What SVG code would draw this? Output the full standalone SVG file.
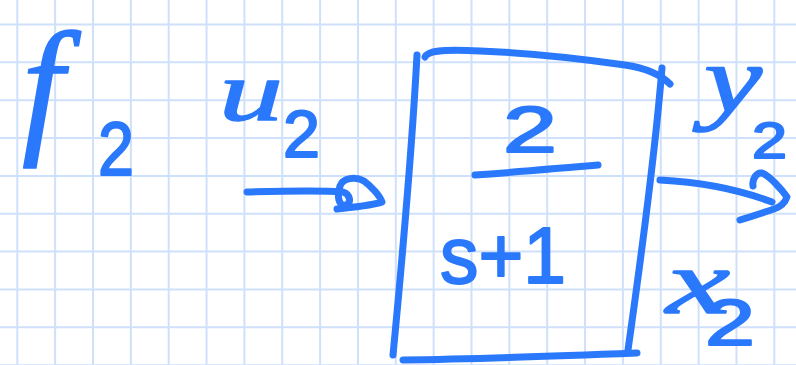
<svg xmlns="http://www.w3.org/2000/svg" width="796" height="365" viewBox="0 0 796 365">
<style>
.grid{fill:none;stroke:#cfe0fb;stroke-width:2}
.ink{fill:none;stroke:#2a78fb;stroke-width:7;stroke-linecap:round;stroke-linejoin:round}
.let{fill:#2a78fb;stroke:#2a78fb;stroke-width:1.5;stroke-linejoin:round;font-family:"Liberation Serif","DejaVu Serif",serif;font-style:italic}
.dig{fill:#2a78fb;stroke:#2a78fb;stroke-width:2;stroke-linejoin:round;font-family:"Liberation Sans","DejaVu Sans",sans-serif}
</style>
<rect width="796" height="365" fill="#ffffff"/>
<g id="grid" class="grid">
<path d="M17.3,0V365M55.15,0V365M93,0V365M130.85,0V365M168.7,0V365M206.55,0V365M244.4,0V365M282.25,0V365M320.1,0V365M357.95,0V365M395.8,0V365M433.65,0V365M471.5,0V365M509.35,0V365M547.2,0V365M585.05,0V365M622.9,0V365M660.75,0V365M698.6,0V365M736.45,0V365M774.3,0V365"/>
<path d="M0,24.5H796M0,62.35H796M0,100.2H796M0,138.05H796M0,175.9H796M0,213.75H796M0,251.6H796M0,289.45H796M0,327.3H796M0,365.15H796"/>
</g>
<g id="label-f2">
<text class="let" x="22" y="136" font-size="150">f</text>
<text class="dig" x="98" y="175" font-size="76" textLength="36" lengthAdjust="spacingAndGlyphs">2</text>
</g>
<g id="label-u2">
<text class="let" x="219" y="120" font-size="84" textLength="64" lengthAdjust="spacingAndGlyphs">u</text>
<text class="dig" x="283" y="157" font-size="66" textLength="37" lengthAdjust="spacingAndGlyphs">2</text>
</g>
<g id="node-block">
<path class="ink" d="M417,55 C413,130 405,230 393,355"/>
<path class="ink" d="M425,57 C428,51 440,49 480,51 C530,53 590,60 625,65 C645,68 660,74 670,84"/>
<path class="ink" d="M662,68 C657,130 645,230 628,350"/>
<path class="ink" d="M403,360 C480,359 560,356 637,353"/>
<text class="dig" x="503" y="152" font-size="65" textLength="54" lengthAdjust="spacingAndGlyphs">2</text>
<path class="ink" d="M475,175 C520,172 560,168 598,165"/>
<text class="dig" x="440" y="283" font-size="80" textLength="126" lengthAdjust="spacingAndGlyphs">s+1</text>
</g>
<g id="label-y2">
<text class="let" x="704" y="112" font-size="96" textLength="58" lengthAdjust="spacingAndGlyphs">y</text>
<text class="dig" x="752" y="158" font-size="50" textLength="35" lengthAdjust="spacingAndGlyphs">2</text>
</g>
<g id="label-x2">
<text class="let" x="666" y="313" font-size="92" textLength="64" lengthAdjust="spacingAndGlyphs">x</text>
<text class="dig" x="705" y="345" font-size="65" textLength="50" lengthAdjust="spacingAndGlyphs">2</text>
</g>
<g id="connectors">
<path class="ink" d="M247,192 C280,191 320,190 343,192 C350,194 352,203 346,205 C338,207 337,195 340,186 C343,178 355,176 364,181 C372,187 380,196 382,202 C375,205 355,207 337,209"/>
<path class="ink" d="M660,180 C700,182 740,190 772,202"/>
<path class="ink" d="M753,186 C752,180 756,172 762,173 C770,176 782,190 787,197 C785,203 780,207 774,209 C762,213 750,217 740,220"/>
</g>
</svg>
